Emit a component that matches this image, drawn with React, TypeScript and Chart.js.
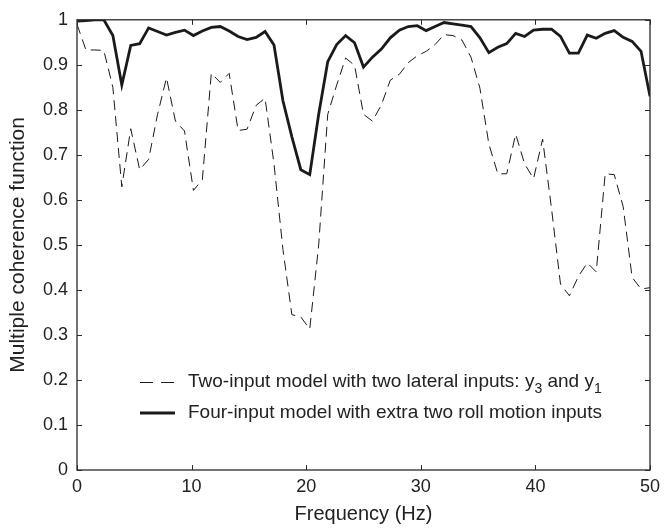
import React, { useEffect, useRef } from "react";
import { Chart, registerables } from "chart.js";

Chart.register(...registerables);

const freqHz = [
  0, 0.78, 1.56, 2.34, 3.13, 3.91, 4.69, 5.47, 6.25, 7.03,
  7.81, 8.59, 9.38, 10.16, 10.94, 11.72, 12.5, 13.28, 14.06, 14.84,
  15.63, 16.41, 17.19, 17.97, 18.75, 19.53, 20.31, 21.09, 21.88, 22.66,
  23.44, 24.22, 25, 25.78, 26.56, 27.34, 28.13, 28.91, 29.69, 30.47,
  31.25, 32.03, 32.81, 33.59, 34.38, 35.16, 35.94, 36.72, 37.5, 38.28,
  39.06, 39.84, 40.63, 41.41, 42.19, 42.97, 43.75, 44.53, 45.31, 46.09,
  46.88, 47.66, 48.44, 49.22, 50,
];

const twoInput = [
  0.99, 0.933, 0.933, 0.932, 0.85, 0.629, 0.758, 0.667, 0.69, 0.79,
  0.871, 0.775, 0.753, 0.621, 0.645, 0.881, 0.861, 0.881, 0.754, 0.757,
  0.81, 0.826, 0.68, 0.49, 0.345, 0.34, 0.313, 0.5, 0.79, 0.855,
  0.915, 0.899, 0.79, 0.775, 0.811, 0.866, 0.879, 0.905, 0.92, 0.93,
  0.945, 0.967, 0.965, 0.955, 0.917, 0.848, 0.724, 0.658, 0.658, 0.746,
  0.68, 0.647, 0.735, 0.58, 0.413, 0.387, 0.43, 0.46, 0.44, 0.658,
  0.656, 0.585, 0.428, 0.402, 0.405,
];

const fourInput = [
  0.997, 0.998, 1.0, 1.0, 0.965, 0.855, 0.943, 0.947, 0.982, 0.974,
  0.966, 0.972, 0.977, 0.965, 0.975, 0.983, 0.985, 0.975, 0.963, 0.956,
  0.961, 0.974, 0.944, 0.82, 0.74, 0.667, 0.656, 0.79, 0.907, 0.945,
  0.965, 0.949, 0.895, 0.917, 0.935, 0.96, 0.977, 0.985, 0.987, 0.976,
  0.985, 0.994, 0.991, 0.988, 0.985, 0.96, 0.927, 0.939, 0.947, 0.97,
  0.963, 0.977, 0.979, 0.979, 0.963, 0.926, 0.926, 0.966, 0.959, 0.97,
  0.976, 0.961, 0.952, 0.93, 0.83,
];

const xTickLabels = ["0", "10", "20", "30", "40", "50"];
const yTickLabels = ["0", "0.1", "0.2", "0.3", "0.4", "0.5", "0.6", "0.7", "0.8", "0.9", "1"];

const legendTwo = ["Two-input model with two lateral inputs: y", "3", " and y", "1"];
const legendFour = "Four-input model with extra two roll motion inputs";
const xTitle = "Frequency (Hz)";
const yTitle = "Multiple coherence function";

const FONT = '"Liberation Sans", Arial, Helvetica, sans-serif';
const TEXT = "#222222";
const LINE = "#1a1a1a";

const framePlugin = {
  id: "framePlugin",
  afterDraw(chart: any) {
    const ctx = chart.ctx as CanvasRenderingContext2D;
    const { left, right, top, bottom } = chart.chartArea;
    const xs = chart.scales.x;
    const ys = chart.scales.y;
    ctx.save();
    ctx.strokeStyle = "#2a2a2a";
    ctx.lineWidth = 1.3;
    ctx.strokeRect(left, top, right - left, bottom - top);
    ctx.lineWidth = 1;
    const tl = 5;
    ctx.beginPath();
    xs.ticks.forEach((t: any) => {
      const px = Math.round(xs.getPixelForValue(t.value)) + 0.5;
      ctx.moveTo(px, bottom);
      ctx.lineTo(px, bottom - tl);
      ctx.moveTo(px, top);
      ctx.lineTo(px, top + tl);
    });
    ys.ticks.forEach((t: any) => {
      const py = Math.round(ys.getPixelForValue(t.value)) + 0.5;
      ctx.moveTo(left, py);
      ctx.lineTo(left + tl, py);
      ctx.moveTo(right, py);
      ctx.lineTo(right - tl, py);
    });
    ctx.stroke();

    // axis titles
    ctx.fillStyle = TEXT;
    ctx.font = `20px ${FONT}`;
    ctx.textAlign = "center";
    ctx.textBaseline = "middle";
    ctx.fillText(xTitle, (left + right) / 2, 514);
    ctx.save();
    ctx.translate(18, (top + bottom) / 2);
    ctx.rotate(-Math.PI / 2);
    ctx.font = `21px ${FONT}`;
    ctx.fillText(yTitle, 0, 0);
    ctx.restore();

    // legend
    const sx0 = 140;
    const sx1 = 175;
    const tx = 188;
    const r1 = 382;
    const r2 = 413;
    ctx.strokeStyle = LINE;
    ctx.lineWidth = 1;
    ctx.setLineDash([13, 8]);
    ctx.beginPath();
    ctx.moveTo(sx0, r1 + 0.5);
    ctx.lineTo(sx1, r1 + 0.5);
    ctx.stroke();
    ctx.setLineDash([]);
    ctx.lineWidth = 3;
    ctx.beginPath();
    ctx.moveTo(sx0, r2);
    ctx.lineTo(sx1, r2);
    ctx.stroke();

    ctx.textAlign = "left";
    ctx.textBaseline = "middle";
    let x = tx;
    legendTwo.forEach((part, i) => {
      const sub = i % 2 === 1;
      ctx.font = sub ? `14px ${FONT}` : `19px ${FONT}`;
      ctx.fillText(part, x, sub ? r1 + 7 : r1);
      x += ctx.measureText(part).width;
    });
    ctx.font = `19px ${FONT}`;
    ctx.fillText(legendFour, tx, r2);
    ctx.restore();
  },
};

export default function App() {
  const ref = useRef<HTMLCanvasElement | null>(null);
  useEffect(() => {
    document.body.style.margin = "0";
    const canvas = ref.current!;
    const chart = new Chart(canvas, {
      type: "line",
      data: {
        datasets: [
          {
            label: "Two-input model with two lateral inputs",
            data: freqHz.map((f, i) => ({ x: f, y: twoInput[i] })),
            borderColor: LINE,
            borderWidth: 1,
            borderDash: [10, 6],
            pointRadius: 0,
            tension: 0,
            fill: false,
            order: 2,
          },
          {
            label: "Four-input model with extra two roll motion inputs",
            data: freqHz.map((f, i) => ({ x: f, y: fourInput[i] })),
            borderColor: LINE,
            borderWidth: 2.8,
            pointRadius: 0,
            tension: 0,
            fill: false,
            order: 1,
          },
        ],
      },
      options: {
        responsive: false,
        animation: false,
        devicePixelRatio: 1,
        layout: { padding: { top: 14, right: 11, left: 0, bottom: 0 } },
        plugins: { legend: { display: false }, tooltip: { enabled: false } },
        scales: {
          x: {
            type: "linear",
            min: 0,
            max: 50,
            grid: { display: false, drawTicks: false },
            border: { display: false },
            ticks: {
              stepSize: 10,
              padding: 6,
              color: TEXT,
              font: { family: FONT, size: 18 },
              maxRotation: 0,
              callback: (v: any) => xTickLabels[Math.round(Number(v) / 10)] ?? "",
            },
            afterFit: (s: any) => {
              s.height = 60;
            },
          },
          y: {
            type: "linear",
            min: 0,
            max: 1,
            grid: { display: false, drawTicks: false },
            border: { display: false },
            ticks: {
              stepSize: 0.1,
              padding: 9,
              color: TEXT,
              font: { family: FONT, size: 18 },
              callback: (v: any) => yTickLabels[Math.round(Number(v) * 10)] ?? "",
            },
            afterFit: (s: any) => {
              s.width = 77;
            },
          },
        },
      },
      plugins: [framePlugin],
    });
    return () => chart.destroy();
  }, []);
  return (
    <div style={{ width: 666, height: 530, background: "#fff" }}>
      <canvas ref={ref} width={666} height={530} style={{ display: "block" }} />
    </div>
  );
}
